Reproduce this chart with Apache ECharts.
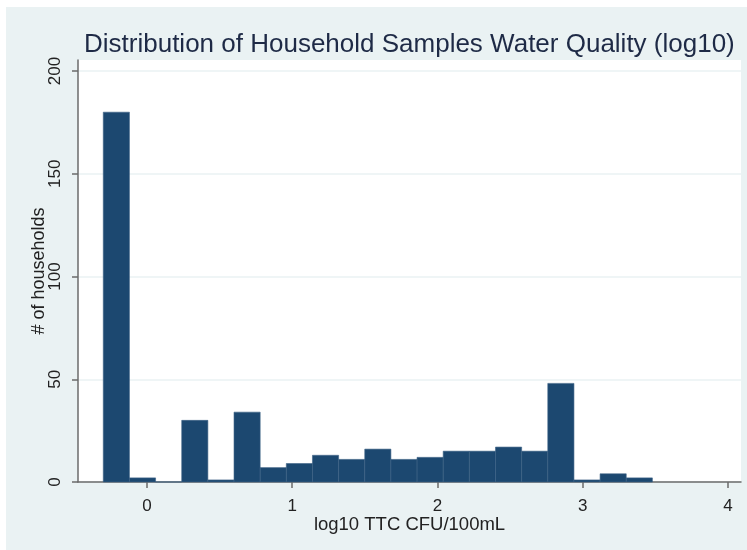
<!DOCTYPE html>
<html>
<head>
<meta charset="utf-8">
<script src="https://cdn.jsdelivr.net/npm/echarts@6/dist/echarts.min.js"></script>
<style>
  html, body { margin: 0; padding: 0; background: #fff; }
  #chart {
    position: absolute;
    left: 6px;
    top: 7px;
    width: 741px;
    height: 543px;
  }
</style>
</head>
<body>
<div id="chart"></div>
<script>
// histogram bins: left and right edges (log10 TTC CFU/100mL)
const binStart = [-0.30, -0.12, 0.06, 0.24, 0.42, 0.60, 0.78, 0.96, 1.14, 1.32, 1.50,
                  1.68, 1.86, 2.04, 2.22, 2.40, 2.58, 2.76, 2.94, 3.12, 3.30];
const binEnd = [-0.12, 0.06, 0.24, 0.42, 0.60, 0.78, 0.96, 1.14, 1.32, 1.50, 1.68,
                1.86, 2.04, 2.22, 2.40, 2.58, 2.76, 2.94, 3.12, 3.30, 3.48];
const households = [180, 2, 0, 30, 1, 34, 7, 9, 13, 11, 16,
                    11, 12, 15, 15, 17, 15, 48, 1, 4, 2];

const xTicks = [0, 1, 2, 3, 4];
const yTicks = [0, 50, 100, 150, 200];

const bins = households.map((n, i) => [binStart[i], binEnd[i], n]);

const myChart = echarts.init(document.getElementById('chart'));

const textColor = '#222';
const axisColor = '#6b6b6b';

myChart.setOption({
  backgroundColor: '#eaf2f3',
  animation: false,
  title: {
    text: 'Distribution of Household Samples Water Quality (log10)',
    left: 73,
    top: 20,
    textStyle: {
      fontFamily: 'Liberation Sans',
      fontSize: 26,
      fontWeight: 'normal',
      color: '#1e2a46'
    }
  },
  grid: {
    left: 72,
    right: 6,
    top: 53,
    bottom: 68,
    show: true,
    backgroundColor: '#fff',
    borderWidth: 0
  },
  xAxis: {
    type: 'value',
    min: -0.474,
    max: 4.09,
    name: 'log10 TTC CFU/100mL',
    nameLocation: 'middle',
    nameGap: 33,
    nameMoveOverlap: false,
    nameTextStyle: { fontFamily: 'Liberation Sans', fontSize: 18.5, color: textColor },
    splitLine: { show: false },
    axisLine: { lineStyle: { color: axisColor, width: 1.5 } },
    axisTick: {
      show: true, length: 6, lineStyle: { color: axisColor, width: 1.5 },
      customValues: xTicks
    },
    axisLabel: {
      fontFamily: 'Liberation Sans', fontSize: 17, color: textColor, margin: 16,
      customValues: xTicks
    }
  },
  yAxis: {
    type: 'value',
    min: 0,
    max: 205.4,
    name: '# of households',
    nameLocation: 'middle',
    nameGap: 30,
    nameMoveOverlap: false,
    nameTextStyle: { fontFamily: 'Liberation Sans', fontSize: 18, color: textColor },
    axisLine: { show: true, onZero: false, lineStyle: { color: axisColor, width: 1.5 } },
    axisTick: {
      show: true, length: 6, lineStyle: { color: axisColor, width: 1.5 },
      customValues: yTicks
    },
    axisLabel: {
      fontFamily: 'Liberation Sans', fontSize: 17, color: textColor, rotate: 90, margin: 14,
      customValues: yTicks
    },
    splitLine: { show: true, lineStyle: { color: '#eaf2f3', width: 1.5 } }
  },
  series: [
    {
      type: 'custom',
      data: bins,
      encode: { x: [0, 1], y: 2 },
      renderItem: function (params, api) {
        const p0 = api.coord([api.value(0), 0]);
        const p1 = api.coord([api.value(1), api.value(2)]);
        return {
          type: 'rect',
          shape: { x: p0[0], y: p1[1], width: p1[0] - p0[0], height: p0[1] - p1[1] },
          style: { fill: '#1c4870', stroke: '#3d6284', lineWidth: 0.6 }
        };
      }
    }
  ]
});

window.addEventListener('resize', () => myChart.resize());
</script>
</body>
</html>
